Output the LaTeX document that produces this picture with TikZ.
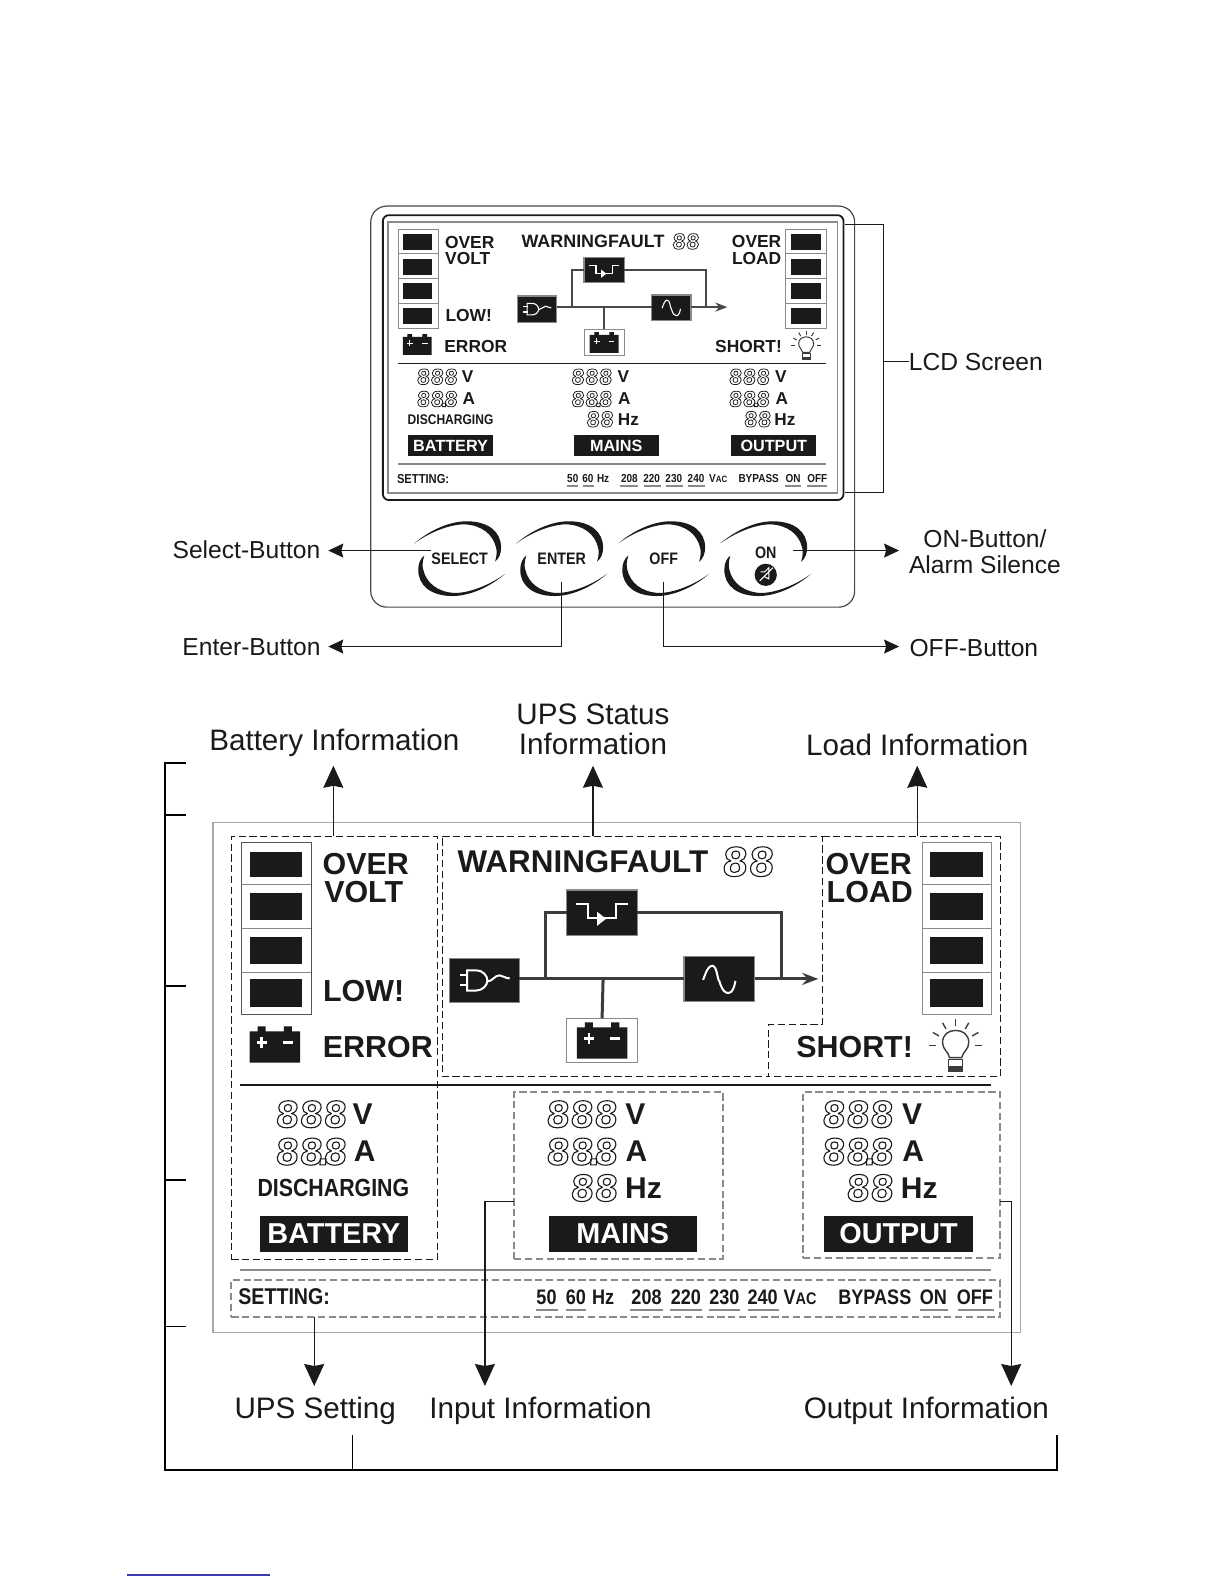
\documentclass[tikz,border=0pt]{standalone}
\usepackage{fontspec}
\setmainfont{Liberation Sans}
\newfontfamily\narrowf[FakeStretch=0.86]{Liberation Sans}
\newfontfamily\segf[FakeSlant=0.06]{Liberation Mono Bold}
\usetikzlibrary{arrows.meta}
\definecolor{ink}{HTML}{1A1A1A}
\definecolor{soft}{HTML}{8A8A8A}
\definecolor{frame}{HTML}{A8A8A8}
\definecolor{lnk}{HTML}{3A3AB0}
\newcommand\fs[1]{\fontsize{#1}{#1}\selectfont}
\newcommand\segw{0.4}
\newcommand\segtxt[1]{\special{pdf:code 1 Tr \segw\space w}#1\special{pdf:code 0 Tr}}
\newcommand\segtri{\segtxt{888}}
\newcommand\segdec{\segtxt{88\kern-.3em.\kern-.3em8}}
\newcommand\segbi{\segtxt{88}}
\newcommand\pxbox[7][]{%
  \pgfmathsetmacro\bcx{(#3+#5)/2}\pgfmathsetmacro\bcy{(#4+#6)/2}%
  \pgfmathsetlengthmacro\bw{(#5-#3)*0.505}\pgfmathsetlengthmacro\bh{(#6-#4)*0.505}%
  \node[inner sep=0pt,outer sep=0pt,minimum width=\bw,minimum height=\bh,#1] (#2) at (\bcx,\bcy) {#7};}
\newcommand\tx[5][]{\node[inner sep=0pt,outer sep=0pt,text=ink,#1] (#2) at (#3,#4) {#5};}
\tikzset{
  x=0.505pt,y=-0.505pt,
  cell/.style={fill=ink,draw=none},
  slotbox/.style={draw=soft,line width=0.5pt},
  bigbold/.style={font=\fs{15.2}\bfseries},
  smallbold/.style={font=\fs{8.7}\bfseries},
  capt/.style={font=\fs{12.3}},
  captb/.style={font=\fs{14.8}},
  unitb/.style={font=\fs{15}\bfseries},
  units/.style={font=\fs{8.6}\bfseries},
  segb/.style={font=\segf\fs{20}\def\segw{0.55},text=ink,anchor=west},
  segs/.style={font=\segf\fs{11.5}\def\segw{0.38},text=ink,anchor=west},
  tagbig/.style={fill=ink,text=white,font=\fs{14.4}\bfseries},
  tagsmall/.style={fill=ink,text=white,font=\fs{8.1}\bfseries},
  setb/.style={font=\narrowf\fs{10.5}\bfseries},
  sets/.style={font=\narrowf\fs{5.8}\bfseries},
  dashk/.style={draw=ink,line width=0.6pt,dash pattern=on 3.6pt off 1.8pt},
  dashg/.style={draw=soft,line width=0.9pt,dash pattern=on 3.6pt off 1.8pt},
  thin arrow/.style={draw=ink,line width=0.5pt,-{Stealth[length=7.5pt,width=7pt,inset=1pt]}},
  big arrow/.style={draw=ink,line width=0.6pt,-{Stealth[length=11pt,width=10pt,inset=1pt]}},
  flow/.style={draw=ink!80,line width=0.9pt},
  flowb/.style={draw=ink!85,line width=1.5pt},
  frameb/.style={fill=ink,draw=soft,line width=0.6pt},
  pics/btnarc/.style={code={
    \fill[ink] (-45,-15) .. controls (-30,-28) and (-10,-37) .. (7,-37)
      .. controls (28,-37) and (41,-27) .. (41,-11)
      .. controls (41,-5) and (39,0) .. (35,3)
      .. controls (37,-3) and (37,-8) .. (36,-11)
      .. controls (33,-24) and (22,-33) .. (5,-34)
      .. controls (-10,-34) and (-30,-26) .. (-45,-15) -- cycle;}},
  pics/plugicon/.style={code={
    \draw[white,line width=#1] (-24,-5) -- (-16,-5) (-24,5) -- (-16,5);
    \draw[white,line width=#1] (-17,-10) -- (-8,-10) .. controls (-2,-10) and (3,-5) .. (3,0) .. controls (3,5) and (-2,10) .. (-8,10) -- (-17,10) -- cycle;
    \draw[white,line width=#1] (3,1) .. controls (8,1) and (10,-5) .. (15,-5) .. controls (19,-5) and (20,-2) .. (25,-2);}},
  pics/bypassicon/.style={code={
    \draw[white,line width=#1] (-26,-9) -- (-14,-9) -- (-14,5) -- (14,5) -- (14,-9) -- (26,-9);
    \fill[white] (-5,-1) -- (-5,13) -- (4,6) -- cycle;}},
  pics/sineicon/.style={code={
    \draw[white,line width=#1] (-16,1) .. controls (-13,-7) and (-11,-13) .. (-7,-13)
      .. controls (-2,-13) and (-2,1) .. (0,2) .. controls (3,12) and (6,14) .. (9,14)
      .. controls (13,14) and (15,8) .. (16,2);}},
  pics/batticon/.style={code={
    \fill[ink] (-25,-13) -- (-17,-13) -- (-17,-18) -- (-9,-18) -- (-9,-13) -- (9,-13) -- (9,-18) -- (17,-18) -- (17,-13) -- (25,-13) -- (25,18) -- (-25,18) -- cycle;
    \draw[white,line width=#1] (-18,-2) -- (-8,-2) (-13,-7) -- (-13,3) (8,-2) -- (18,-2);}},
  pics/lampicon/.style={code={
    \draw[ink!85,line width=#1] (-6,12) .. controls (-7,6) and (-13,4) .. (-13,-3) .. controls (-13,-11) and (-7,-15) .. (0,-15) .. controls (7,-15) and (13,-11) .. (13,-3) .. controls (13,4) and (7,6) .. (6,12) -- cycle;
    \draw[ink!85,line width=#1] (-7,14) rectangle (7,25);
    \fill[ink!85] (-7,20) rectangle (7,25);
    \foreach \a in {0,30,60,90,120,150,180}{\draw[ink!85,line width=#1] (-\a-0:19) -- (-\a-0:26);}
  }},
}
\begin{document}
\begin{tikzpicture}
\useasboundingbox (0,0) rectangle (1212,1568);
\fill[white] (0,0) rectangle (1212,1568);

%% ---------- upper panel ----------
\pxbox[draw=ink!80,line width=0.6pt,rounded corners=8pt]{panel}{367}{204}{846}{601}{}
\pxbox[draw=ink,line width=0.9pt,rounded corners=3pt]{lcdo}{379}{213}{835}{495}{}
\pxbox[draw=soft,line width=0.8pt]{lcdi}{384}{220}{829}{488}{}

\pxbox[slotbox]{ul}{394}{227}{434}{325}{}
\draw[soft,line width=0.4pt] (394,251) -- (434,251) (394,276) -- (434,276) (394,300) -- (434,300);
\pxbox[cell]{ca}{399}{232}{428}{247}{}
\pxbox[cell]{cb}{399}{256}{428}{272}{}
\pxbox[cell]{cc}{399}{280}{428}{296}{}
\pxbox[cell]{cd}{399}{305}{428}{321}{}
\pxbox[slotbox]{ur}{778}{227}{818}{325}{}
\draw[soft,line width=0.4pt] (778,251) -- (818,251) (778,276) -- (818,276) (778,300) -- (818,300);
\pxbox[cell]{ce}{783}{232}{813}{247}{}
\pxbox[cell]{cf}{783}{256}{813}{272}{}
\pxbox[cell]{cg}{783}{280}{813}{296}{}
\pxbox[cell]{ch}{783}{305}{813}{321}{}

\tx[smallbold]{t1}{465}{240}{OVER}
\tx[smallbold]{t2}{463}{256}{VOLT}
\tx[smallbold]{t3}{464}{312}{LOW!}
\tx[smallbold]{t4}{471}{343}{ERROR}
\tx[font=\fs{8.95}\bfseries]{t5}{587}{239}{WARNINGFAULT}
\tx[segs]{t6}{665}{239}{\segbi}
\tx[smallbold]{t7}{749}{239}{OVER}
\tx[smallbold]{t8}{749}{256}{LOAD}
\tx[smallbold]{t9}{741}{343}{SHORT!}
\pic[scale=0.57] at (798,342) {lampicon=0.5pt};
\pic[scale=0.57] at (413,341) {batticon=0.7pt};

\pxbox[frameb]{uplug}{512}{293}{551}{319}{}
\pxbox[frameb]{ubyp}{578}{255}{618}{280}{}
\pxbox[frameb]{usin}{645}{292}{684}{317}{}
\pxbox[draw=soft,line width=0.4pt]{ubat}{578}{326}{618}{352}{}
\pic[scale=0.57] at (uplug) {plugicon=0.55pt};
\pic[scale=0.57] at (ubyp) {bypassicon=0.55pt};
\pic[scale=0.57] at (usin) {sineicon=0.55pt};
\pic[scale=0.57] at (598,339) {batticon=0.6pt};
\coordinate (ua) at (566,304);
\coordinate (ub) at (598,304);
\coordinate (uc) at (699,304);
\coordinate (ud) at (720,304);
\draw[flow] (uplug.east |- ua) -- (usin.west |- ua);
\draw[flow] (ua) |- (ubyp.west);
\draw[flow] (ubyp.east) -| (uc);
\draw[flow] (ub) -- (ubat.north);
\draw[draw=ink!80,line width=0.9pt,-{Stealth[length=6pt,width=4.5pt]}] (usin.east |- ua) -- (ud);

\draw[ink,line width=0.6pt] (394,360) -- (818,360);
\tx[segs]{n1}{412}{373}{\segtri}
\tx[units]{n2}{463}{373}{V}
\tx[segs]{n3}{412}{395}{\segdec}
\tx[units]{n4}{464}{395}{A}
\tx[font=\narrowf\fs{7}\bfseries]{n5}{446}{415}{DISCHARGING}
\pxbox[tagsmall]{n6}{404}{431}{488}{451}{BATTERY}
\tx[segs]{n7}{565}{373}{\segtri}
\tx[units]{n8}{617}{373}{V}
\tx[segs]{n9}{565}{395}{\segdec}
\tx[units]{n10}{618}{395}{A}
\tx[segs]{n11}{580}{415}{\segbi}
\tx[units]{n12}{622}{415}{Hz}
\pxbox[tagsmall]{n13}{568}{431}{652}{451}{MAINS}
\tx[segs]{n14}{721}{373}{\segtri}
\tx[units]{n15}{773}{373}{V}
\tx[segs]{n16}{721}{395}{\segdec}
\tx[units]{n17}{774}{395}{A}
\tx[segs]{n18}{736}{415}{\segbi}
\tx[units]{n19}{777}{415}{Hz}
\pxbox[tagsmall]{n20}{724}{431}{808}{451}{OUTPUT}

\draw[soft,line width=0.9pt] (394,459) -- (818,459);
\tx[font=\narrowf\fs{6.5}\bfseries,anchor=west]{s1}{393}{474}{SETTING:}
\tx[sets]{s2}{567}{474}{50}
\tx[sets]{s3}{582}{474}{60}
\tx[sets]{s4}{597}{474}{Hz}
\tx[sets]{s5}{623}{474}{208}
\tx[sets]{s6}{645}{474}{220}
\tx[sets]{s7}{667}{474}{230}
\tx[sets]{s8}{689}{474}{240}
\tx[sets]{s9}{711}{474}{V{\fs{4.6}AC}}
\tx[sets]{s10}{751}{474}{BYPASS}
\tx[sets]{s11}{785}{474}{ON}
\tx[sets]{s12}{809}{474}{OFF}
\draw[soft,line width=0.9pt] (561,481) -- (572,481) (577,481) -- (588,481) (614,481) -- (632,481) (637,481) -- (654,481) (659,481) -- (676,481) (681,481) -- (698,481) (777,481) -- (793,481) (799,481) -- (819,481);

%% buttons
\foreach \bx in {455,556,657,758}{
  \pic at (\bx,553) {btnarc};
  \pic[rotate=180] at (\bx,553) {btnarc};
}
\tx[font=\narrowf\fs{8.3}\bfseries]{bsel}{455}{553}{SELECT}
\tx[font=\narrowf\fs{8.3}\bfseries]{bent}{556}{553}{ENTER}
\tx[font=\narrowf\fs{8.3}\bfseries]{boff}{657}{553}{OFF}
\tx[font=\narrowf\fs{8.3}\bfseries]{bon}{758}{547}{ON}
\fill[ink] (758,569) circle[radius=11];
\draw[white,line width=0.5pt] (752,575) -- (765,562) (753,566) -- (757,566) -- (761,562) -- (761,573) -- (757,571);

\tx[capt]{lsel}{244}{544}{Select-Button}
\tx[capt]{lent}{249}{641}{Enter-Button}
\tx[capt]{loff}{964}{641}{OFF-Button}
\tx[capt,align=center]{lon}{975}{546}{ON-Button/\\[0.5pt]Alarm Silence}
\tx[capt]{llcd}{966}{358}{LCD Screen}
\coordinate (asel) at (427,545);
\coordinate (aent) at (556,576);
\coordinate (aoff) at (657,576);
\coordinate (aon) at (785,545);
\coordinate (abr) at (875,358);
\coordinate (tsel) at (325,545);
\coordinate (tent) at (325,640);
\coordinate (toff) at (890,640);
\coordinate (ton) at (890,545);
\draw[thin arrow] (asel) -- (tsel);
\draw[thin arrow] (aent) |- (tent);
\draw[thin arrow] (aoff) |- (toff);
\draw[thin arrow] (aon) -- (ton);
\draw[ink,line width=0.5pt] (836,222) -- (875,222) -- (875,488) -- (836,488);
\draw[ink,line width=0.5pt] (abr) -- (llcd.west);

%% ---------- lower panel ----------
\pxbox[draw=frame,line width=0.8pt]{lcd}{211}{814}{1010}{1319}{}
\pxbox[dashk]{rbat}{229}{828}{433}{1247}{}
\draw[dashk] (438,828) -- (814,828) -- (814,1014) -- (761,1014) -- (761,1066) -- (438,1066) -- cycle;
\draw[dashk] (814,828) -- (990,828) -- (990,1066) -- (761,1066);
\pxbox[dashg]{rmai}{509}{1081}{716}{1246}{}
\pxbox[dashg]{rout}{795}{1081}{990}{1245}{}
\pxbox[dashg]{rset}{229}{1267}{990}{1304}{}
\draw[ink,line width=0.7pt] (238,1074) -- (981,1074);
\draw[soft,line width=1.2pt] (238,1257) -- (981,1257);

\pxbox[slotbox,draw=ink!75]{ll}{239}{834}{308}{1004}{}
\draw[soft,line width=0.5pt] (239,876) -- (308,876) (239,919) -- (308,919) (239,963) -- (308,963);
\pxbox[cell]{da}{247}{843}{299}{868}{}
\pxbox[cell]{db}{247}{884}{299}{911}{}
\pxbox[cell]{dc}{247}{928}{299}{954}{}
\pxbox[cell]{dd}{247}{969}{299}{997}{}
\pxbox[slotbox]{lr}{913}{834}{981}{1004}{}
\draw[soft,line width=0.5pt] (913,876) -- (981,876) (913,919) -- (981,919) (913,963) -- (981,963);
\pxbox[cell]{de}{921}{843}{973}{868}{}
\pxbox[cell]{df}{921}{884}{973}{911}{}
\pxbox[cell]{dg}{921}{928}{973}{954}{}
\pxbox[cell]{dh}{921}{969}{973}{997}{}

\tx[bigbold]{b1}{362}{855}{OVER}
\tx[bigbold]{b2}{360}{883}{VOLT}
\tx[bigbold]{b3}{360}{981}{LOW!}
\tx[bigbold]{b4}{374}{1036}{ERROR}
\tx[font=\fs{15.7}\bfseries]{b5}{577}{853}{WARNINGFAULT}
\tx[segb,font=\segf\fs{22}\def\segw{0.55}]{b6}{714}{853}{\segbi}
\tx[bigbold]{b7}{860}{855}{OVER}
\tx[bigbold]{b8}{861}{883}{LOAD}
\tx[bigbold]{b9}{846}{1036}{SHORT!}
\pic at (946,1035) {lampicon=0.7pt};
\pic at (272,1034) {batticon=1.2pt};

\pxbox[frameb]{lplug}{445}{949}{514}{992}{}
\pxbox[frameb]{lbyp}{561}{881}{631}{926}{}
\pxbox[frameb]{lsin}{677}{947}{747}{991}{}
\pxbox[draw=soft,line width=0.6pt]{lbat}{561}{1008}{631}{1052}{}
\pic at (lplug) {plugicon=1pt};
\pic at (lbyp) {bypassicon=1pt};
\pic at (lsin) {sineicon=1pt};
\pic at (596,1030) {batticon=1.2pt};
\coordinate (va) at (540,969);
\coordinate (vb) at (597,969);
\coordinate (vc) at (774,969);
\coordinate (vd) at (810,969);
\draw[flowb] (lplug.east |- va) -- (lsin.west |- va);
\draw[flowb] (va) |- (lbyp.west);
\draw[flowb] (lbyp.east) -| (vc);
\draw[flowb] (vb) -- (lbat.north);
\draw[draw=ink!85,line width=1.5pt,-{Stealth[length=8pt,width=6pt]}] (lsin.east |- va) -- (vd);

\tx[segb]{c1}{272}{1103}{\segtri}
\tx[unitb]{c2}{359}{1103}{V}
\tx[segb]{c3}{272}{1140}{\segdec}
\tx[unitb]{c4}{361}{1140}{A}
\tx[font=\narrowf\fs{12.4}\bfseries]{c5}{330}{1176}{DISCHARGING}
\pxbox[tagbig]{c6}{257}{1204}{404}{1239}{BATTERY}
\tx[segb]{c7}{540}{1103}{\segtri}
\tx[unitb]{c8}{629}{1103}{V}
\tx[segb]{c9}{540}{1140}{\segdec}
\tx[unitb]{c10}{630}{1140}{A}
\tx[segb]{c11}{564}{1176}{\segbi}
\tx[unitb]{c12}{637}{1176}{Hz}
\pxbox[tagbig]{c13}{543}{1204}{690}{1239}{MAINS}
\tx[segb]{c14}{813}{1103}{\segtri}
\tx[unitb]{c15}{903}{1103}{V}
\tx[segb]{c16}{813}{1140}{\segdec}
\tx[unitb]{c17}{904}{1140}{A}
\tx[segb]{c18}{837}{1176}{\segbi}
\tx[unitb]{c19}{910}{1176}{Hz}
\pxbox[tagbig]{c20}{816}{1204}{963}{1239}{OUTPUT}

\tx[font=\narrowf\fs{11.4}\bfseries,anchor=west]{e1}{236}{1284}{SETTING:}
\tx[setb]{e2}{541}{1284}{50}
\tx[setb]{e3}{570}{1284}{60}
\tx[setb]{e4}{597}{1284}{Hz}
\tx[setb]{e5}{640}{1284}{208}
\tx[setb]{e6}{679}{1284}{220}
\tx[setb]{e7}{717}{1284}{230}
\tx[setb]{e8}{755}{1284}{240}
\tx[setb]{e9}{792}{1284}{V{\fs{8.4}AC}}
\tx[setb]{e10}{866}{1284}{BYPASS}
\tx[setb]{e11}{924}{1284}{ON}
\tx[setb]{e12}{965}{1284}{OFF}
\draw[soft,line width=1.2pt] (531,1297) -- (552,1297) (560,1297) -- (580,1297) (624,1297) -- (656,1297) (663,1297) -- (695,1297) (702,1297) -- (733,1297) (740,1297) -- (771,1297) (911,1297) -- (938,1297) (948,1297) -- (984,1297);

\tx[captb]{g1}{331}{735}{Battery Information}
\tx[captb,align=center]{g2}{587}{722}{UPS Status\\[0.5pt]Information}
\tx[captb]{g3}{908}{737}{Load Information}
\tx[captb]{g4}{312}{1397}{UPS Setting}
\tx[captb]{g5}{535}{1397}{Input Information}
\tx[captb]{g6}{917}{1397}{Output Information}
\coordinate (pa) at (330,828);
\coordinate (pb) at (587,828);
\coordinate (pc) at (908,828);
\coordinate (pd) at (311,1304);
\coordinate (pe) at (509,1189);
\coordinate (pf) at (990,1189);
\coordinate (qa) at (330,758);
\coordinate (qb) at (587,758);
\coordinate (qc) at (908,758);
\coordinate (qd) at (311,1372);
\coordinate (qe) at (480,1372);
\coordinate (qf) at (1001,1372);
\draw[big arrow] (pa) -- (qa);
\draw[big arrow] (pb) -- (qb);
\draw[big arrow] (pc) -- (qc);
\draw[big arrow] (pd) -- (qd);
\draw[big arrow] (pe) -| (qe);
\draw[big arrow] (pf) -| (qf);

%% outer brackets
\draw[black,line width=1.1pt] (184,755) -- (163,755) -- (163,1455) -- (1046,1455) -- (1046,1420);
\draw[black,line width=0.8pt] (163,807) -- (184,807) (163,976) -- (184,976) (163,1168) -- (184,1168) (163,1313) -- (184,1313) (349,1455) -- (349,1420);
\draw[lnk,line width=0.7pt] (126,1559) -- (267,1559);
\end{tikzpicture}
\end{document}
